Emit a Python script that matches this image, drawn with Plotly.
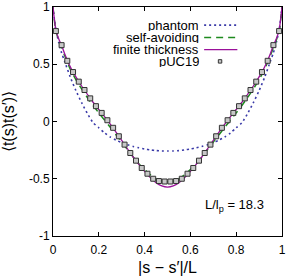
import plotly.graph_objects as go

# curve grid
cx = [0, 0.005, 0.0125, 0.025, 0.0375, 0.05, 0.075, 0.1, 0.125, 0.15, 0.175, 0.2, 0.225, 0.25,
      0.275, 0.3, 0.325, 0.35, 0.375, 0.4, 0.425, 0.45, 0.475, 0.5]
phantom_half = [1.0, 0.91, 0.80, 0.69, 0.60, 0.53, 0.39, 0.27, 0.165, 0.07, -0.01, -0.055, -0.1,
                -0.135, -0.162, -0.185, -0.203, -0.218, -0.23, -0.24, -0.248, -0.254, -0.257, -0.258]
selfavoid_half = [1.0, 0.90, 0.79, 0.71, 0.645, 0.58, 0.46, 0.365, 0.285, 0.21, 0.14, 0.075, 0.012,
                  -0.05, -0.115, -0.18, -0.245, -0.31, -0.37, -0.42, -0.465, -0.5, -0.52, -0.527]
finite_half = [1.0, 0.91, 0.80, 0.72, 0.665, 0.597, 0.48, 0.39, 0.31, 0.238, 0.168, 0.105, 0.043,
               -0.022, -0.092, -0.165, -0.238, -0.31, -0.375, -0.435, -0.49, -0.535, -0.563, -0.573]

# pUC19 data
px = [0.0125 + 0.025 * k for k in range(40)]
puc_half = [0.79, 0.667, 0.53, 0.432, 0.348, 0.275, 0.202, 0.134, 0.075, 0.011,
            -0.055, -0.129, -0.202, -0.275, -0.342, -0.406, -0.456, -0.50, -0.52, -0.524]
puc = puc_half + puc_half[::-1]

xfull = cx + [round(1 - v, 4) for v in cx[::-1][1:]]
def mirror(h):
    return h + h[::-1][1:]

phantom = mirror(phantom_half)
selfavoid = mirror(selfavoid_half)
finite = mirror(finite_half)

xtickvals = [0, 0.2, 0.4, 0.6, 0.8, 1]
xticktext = ["0", "0.2", "0.4", "0.6", "0.8", "1"]
ytickvals = [-1, -0.5, 0, 0.5, 1]
yticktext = ["-1", "-0.5", "0", "0.5", "1"]

C_PH = "#3a3aa8"
C_SA = "#1e8a1e"
C_FT = "#9a119a"
SM = 0.6

fig = go.Figure()
fig.add_trace(go.Scatter(x=xfull, y=phantom, mode="lines", line_shape="spline",
                         line=dict(color=C_PH, width=1.6, dash="2px,3px", smoothing=SM), name="phantom"))
fig.add_trace(go.Scatter(x=xfull, y=selfavoid, mode="lines", line_shape="spline",
                         line=dict(color=C_SA, width=1.5, dash="7px,5px", smoothing=SM), name="self-avoiding"))
fig.add_trace(go.Scatter(x=xfull, y=finite, mode="lines", line_shape="spline",
                         line=dict(color=C_FT, width=1.3, smoothing=SM), name="finite thickness"))
fig.add_trace(go.Scatter(x=px, y=puc, mode="markers",
                         marker=dict(symbol="square", size=5, color="#c8c8c8",
                                     line=dict(color="#333333", width=1)), name="pUC19"))

font = "Liberation Sans, Arial, sans-serif"
axis_common = dict(showgrid=False, zeroline=False, showline=True, linecolor="black", linewidth=1,
                   mirror="ticks", ticks="inside", ticklen=4, tickcolor="black", automargin=False,
                   tickfont=dict(family=font, size=12, color="black"))

fig.update_xaxes(range=[0, 1], tickvals=xtickvals, ticktext=xticktext, ticklabelstandoff=3,
                 title=dict(text="|s − s′|/L", font=dict(family=font, size=16, color="black"), standoff=5),
                 **axis_common)
fig.update_yaxes(range=[-1, 1], tickvals=ytickvals, ticktext=yticktext,
                 title=dict(text="⟨t(s)t(s′)⟩", font=dict(family=font, size=16, color="black"), standoff=10),
                 **axis_common)

# legend drawn gnuplot-style: text right-aligned, sample to the right
leg_rows = [("phantom", 0.921), ("self-avoiding", 0.867), ("finite thickness", 0.814), ("pUC19", 0.762)]
for txt, yy in leg_rows:
    fig.add_annotation(x=0.64, y=yy, xref="paper", yref="paper", text=txt, showarrow=False,
                       xanchor="right", yanchor="middle", height=11, borderpad=0,
                       font=dict(family=font, size=13, color="black"))
fig.add_shape(type="line", xref="paper", yref="paper", x0=0.66, x1=0.805, y0=0.921, y1=0.921,
              line=dict(color=C_PH, width=1.6, dash="2px,3px"))
fig.add_shape(type="line", xref="paper", yref="paper", x0=0.66, x1=0.805, y0=0.867, y1=0.867,
              line=dict(color=C_SA, width=1.5, dash="7px,5px"))
fig.add_shape(type="line", xref="paper", yref="paper", x0=0.66, x1=0.805, y0=0.814, y1=0.814,
              line=dict(color=C_FT, width=1.3))
fig.add_shape(type="rect", xref="paper", yref="paper", x0=0.722, x1=0.737, y0=0.755, y1=0.77,
              line=dict(color="#333333", width=1), fillcolor="#c8c8c8")

fig.add_annotation(x=0.93, y=0.135, xref="paper", yref="paper", text="L/l<sub>p</sub> = 18.3",
                   showarrow=False, xanchor="right", yanchor="middle",
                   font=dict(family=font, size=13, color="black"))

fig.update_layout(width=291, height=280, margin=dict(l=53, r=9, t=7, b=44),
                  plot_bgcolor="white", paper_bgcolor="white", showlegend=False)

fig.write_html("out.html", config={"displayModeBar": False},
               post_script="document.body.style.margin='0';document.body.style.overflow='hidden';")
